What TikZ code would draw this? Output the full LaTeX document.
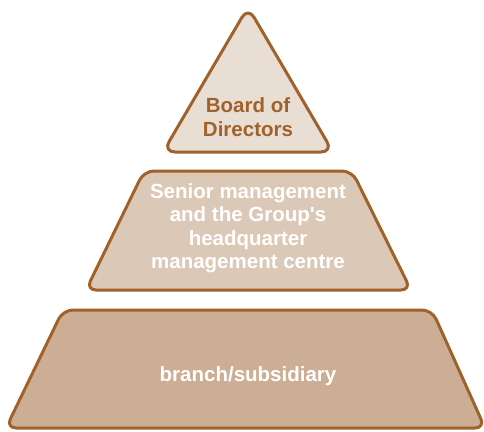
\documentclass[tikz,border=0pt]{standalone}
\usepackage{fontspec}
\setmainfont{Liberation Sans}
\usetikzlibrary{positioning}

\definecolor{rim}{HTML}{A0622A}
\definecolor{topfill}{HTML}{E9DED4}
\definecolor{midfill}{HTML}{DBC8B6}
\definecolor{lowfill}{HTML}{CCAE94}

\begin{document}
\begin{tikzpicture}[x=1pt,y=-1pt,
  tier/.style={draw=rim,line width=3pt,rounded corners=10pt,line join=round},
  tier text/.style={align=center,font=\fontsize{20.5}{23.5}\selectfont\bfseries,text=white}]

  \useasboundingbox (0,0) rectangle (484,431);

  \draw[tier,fill=topfill,rounded corners=12pt] (248,7) -- (333,152) -- (163,152) -- cycle;
  \draw[tier,fill=midfill] (144,171) -- (352,171) -- (411,290) -- (86,290) -- cycle;
  \draw[tier,fill=lowfill] (63,310) -- (432,310) -- (485,428) -- (6,428) -- cycle;

  \node[tier text,text=rim] (board) at (248,117) {Board of\\Directors};
  \node[tier text] (senior) at (248,228) {Senior management\\and the Group\textquotesingle s\\headquarter\\management centre};
  \node[tier text] (branch) at (248,376) {branch/subsidiary};
\end{tikzpicture}
\end{document}
